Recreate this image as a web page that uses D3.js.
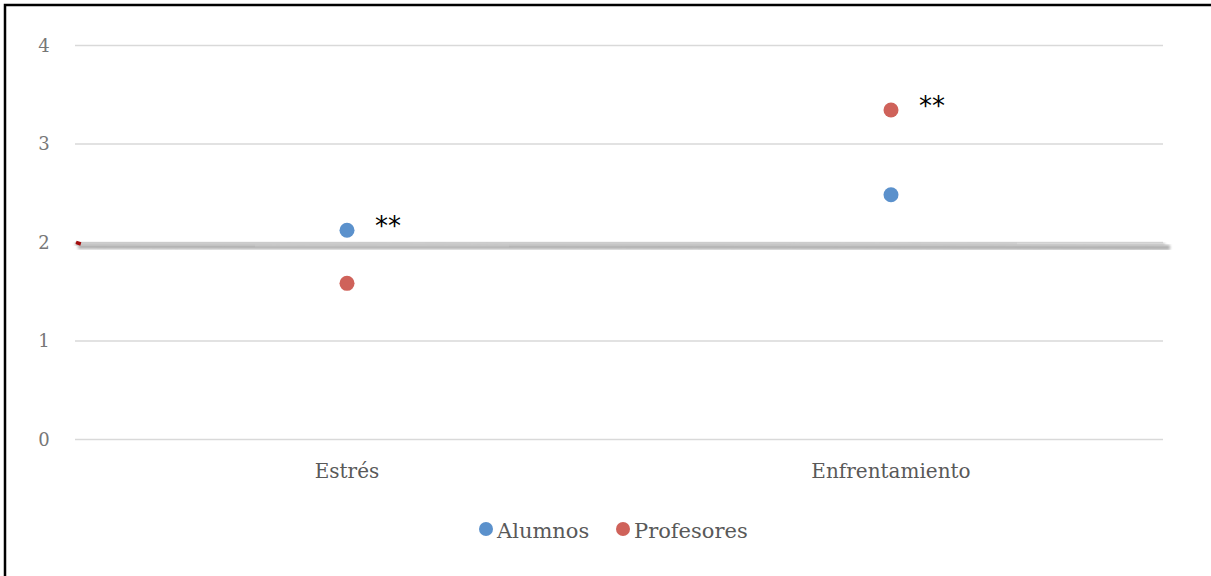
<!DOCTYPE html>
<html>
<head>
<meta charset="utf-8">
<script src="https://cdn.jsdelivr.net/npm/d3@7"></script>
<style>
  html, body { margin: 0; padding: 0; background: #fff; overflow: hidden; }
  svg { display: block; }
</style>
</head>
<body>
<svg id="chart" width="1211" height="576"></svg>
<script>
// Mean scores by dimension for each group
const categories = ["Estrés", "Enfrentamiento"];
const seriesNames = ["Alumnos", "Profesores"];
const alumnos = [2.12, 2.48];
const profesores = [1.58, 3.34];
const yTicks = [0, 1, 2, 3, 4];
const significance = ["**", "**"];   // marked next to the higher point of each pair
const referenceValue = 1.98;         // horizontal reference line
const colors = { Alumnos: "#5b91cc", Profesores: "#cf625a" };

const svg = d3.select("#chart");
const W = 1211, H = 576;
const plot = { left: 75, right: 1163, top: 45, bottom: 439 };
const font = "'DejaVu Serif', serif";

const x = d3.scaleBand().domain(categories).range([plot.left, plot.right]);
const y = d3.scaleLinear().domain([0, 4]).range([plot.bottom, plot.top]);

// white page background
svg.append("rect").attr("width", W).attr("height", H).attr("fill", "#fff");

// frame: top and left edges
svg.append("path").attr("d", `M5,${H + 2} V5 H${W + 2}`)
  .attr("fill", "none").attr("stroke", "#000").attr("stroke-width", 2.5);

// horizontal gridlines and y labels
const yAxis = d3.axisLeft(y).tickValues(yTicks).tickFormat(d3.format("d"))
  .tickSize(-(plot.right - plot.left));
const gy = svg.append("g").attr("transform", `translate(${plot.left},0)`).call(yAxis);
gy.select(".domain").remove();
gy.selectAll(".tick line").attr("stroke", "#d9d9d9").attr("stroke-width", 1.3);
gy.selectAll(".tick text").attr("fill", "#777").attr("font-family", font).attr("font-size", 18)
  .attr("text-anchor", "middle").attr("x", -31).attr("dy", "0.36em");

// category labels
const xAxis = d3.axisBottom(x).tickSize(0).tickPadding(25);
const gx = svg.append("g").attr("transform", `translate(0,${plot.bottom})`).call(xAxis);
gx.select(".domain").remove();
gx.selectAll(".tick text").attr("fill", "#595959").attr("font-family", font).attr("font-size", 20);

// reference line with a soft shadow
const defs = svg.append("defs");
const blur = defs.append("filter").attr("id", "soft").attr("x", "-5%").attr("y", "-200%")
  .attr("width", "110%").attr("height", "500%");
blur.append("feGaussianBlur").attr("stdDeviation", 1.6);
const refY = y(referenceValue);
svg.append("line").attr("x1", plot.left + 3).attr("x2", plot.right + 7)
  .attr("y1", refY + 2.5).attr("y2", refY + 3.5)
  .attr("stroke", "#9a9a9a").attr("stroke-width", 5).attr("filter", "url(#soft)").attr("opacity", 0.8);
svg.append("line").attr("x1", plot.left).attr("x2", plot.right + 2)
  .attr("y1", refY).attr("y2", refY + 0.5)
  .attr("stroke", "#c4c4c4").attr("stroke-width", 4.5).attr("filter", "url(#soft)");
svg.append("rect").attr("x", plot.left + 1).attr("y", refY - 2.5).attr("width", 5).attr("height", 3.5)
  .attr("fill", "#a30d0d").attr("transform", `rotate(18 ${plot.left + 3.5} ${refY - 1})`);

// points
const seriesData = [
  { name: "Alumnos", values: alumnos },
  { name: "Profesores", values: profesores }
];
seriesData.forEach(s => {
  svg.append("g").selectAll("circle").data(s.values).join("circle")
    .attr("cx", (d, i) => x(categories[i]) + x.bandwidth() / 2)
    .attr("cy", d => y(d))
    .attr("r", 7.5)
    .attr("fill", colors[s.name]);
});

// significance marks beside the higher point in each category
categories.forEach((c, i) => {
  const top = Math.max(alumnos[i], profesores[i]);
  svg.append("text")
    .attr("x", x(c) + x.bandwidth() / 2 + 28)
    .attr("y", y(top) + 5)
    .attr("font-family", "'DejaVu Sans', sans-serif").attr("font-size", 26).attr("fill", "#000")
    .text(significance[i]);
});

// legend
const legend = svg.append("g").attr("transform", "translate(0,531)");
const items = [{ name: "Alumnos", x: 486 }, { name: "Profesores", x: 623 }];
items.forEach(it => {
  legend.append("circle").attr("cx", it.x).attr("cy", -2).attr("r", 7).attr("fill", colors[it.name]);
  legend.append("text").attr("x", it.x + 11).attr("y", 7)
    .attr("font-family", font).attr("font-size", 21).attr("fill", "#595959").text(it.name);
});
</script>
</body>
</html>
